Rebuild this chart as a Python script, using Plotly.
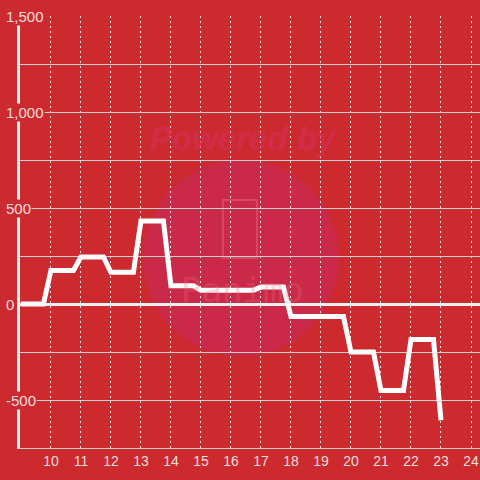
import plotly.graph_objects as go

# Data
hours = [9.0, 9.75, 10.0, 10.75, 11.0, 11.75, 12.0, 12.75, 13.0, 13.75, 14.0, 14.75,
         15.0, 16.75, 17.0, 17.75, 18.0, 19.75, 20.0, 20.75, 21.0, 21.75, 22.0, 22.75, 23.0]
values = [0, 0, 175, 175, 245, 245, 165, 165, 432, 432, 95, 95,
          72, 72, 88, 88, -65, -65, -250, -250, -450, -450, -185, -185, -605]

x_tick_vals = list(range(10, 25))
x_tick_text = [str(v) for v in x_tick_vals]
y_grid_vals = [-750, -500, -250, 0, 250, 500, 750, 1000, 1250, 1500]
y_label_vals = [-500, 0, 500, 1000, 1500]
y_label_text = ["-500", "0", "500", "1,000", "1,500"]

BG = "#cc2a2f"
TXT = "#f3dede"

fig = go.Figure()
fig.add_trace(go.Scatter(
    x=hours, y=values, mode="lines",
    line=dict(color="#ffffff", width=5),
    hoverinfo="skip", showlegend=False,
))

fig.update_layout(
    width=480, height=480,
    margin=dict(l=20, r=0, t=16, b=32, autoexpand=False),
    paper_bgcolor=BG, plot_bgcolor=BG,
    font=dict(family="Liberation Sans, Arial, sans-serif", size=14, color=TXT),
    showlegend=False,
)

fig.update_xaxes(
    range=[8.97, 24.3],
    tickvals=x_tick_vals, ticktext=x_tick_text,
    showgrid=True, gridcolor="#e8e8e8", gridwidth=1, griddash="2px,3px",
    showline=True, linecolor="#cccccc", linewidth=1,
    zeroline=False, ticks="", tickfont=dict(size=14, color=TXT),
)
fig.update_yaxes(
    range=[-750, 1500],
    tickvals=y_grid_vals, showticklabels=False,
    showgrid=True, gridcolor="#cfcfcf", gridwidth=1,
    zeroline=True, zerolinecolor="#eeeeee", zerolinewidth=3,
    showline=True, linecolor="#f2f2f2", linewidth=3,
    ticks="",
)

# Y tick labels drawn with a background, covering axis line and gridlines
for v, t in zip(y_label_vals, y_label_text):
    fig.add_annotation(text=t, xref="paper", yref="y", x=-0.0326, y=v,
                       xanchor="left", yanchor="middle", showarrow=False,
                       bgcolor=BG, borderpad=0,
                       font=dict(size=15, color=TXT))

# Watermark
fig.add_shape(type="circle", xref="paper", yref="paper",
              x0=0.267, x1=0.693, y0=0.213, y1=0.667,
              fillcolor="#cb2948", line=dict(width=0), layer="below")
fig.add_shape(type="rect", xref="paper", yref="paper",
              x0=0.441, x1=0.515, y0=0.44, y1=0.574,
              line=dict(color="rgba(235,110,125,0.45)", width=2),
              fillcolor="rgba(0,0,0,0)", layer="below")
fig.add_annotation(text="<b><i>Powered by</i></b>", xref="paper", yref="paper",
                   x=0.485, y=0.765, showarrow=False,
                   font=dict(size=33, color="rgba(215,45,85,0.7)"))
fig.add_annotation(text="Panimo", xref="paper", yref="paper",
                   x=0.483, y=0.366, showarrow=False,
                   font=dict(size=34, family="DejaVu Sans Mono, monospace",
                             color="rgba(235,110,125,0.3)"))

fig.write_html("out.html", config={"displayModeBar": False},
               post_script="document.body.style.margin='0';document.body.style.background='" + BG + "';")
